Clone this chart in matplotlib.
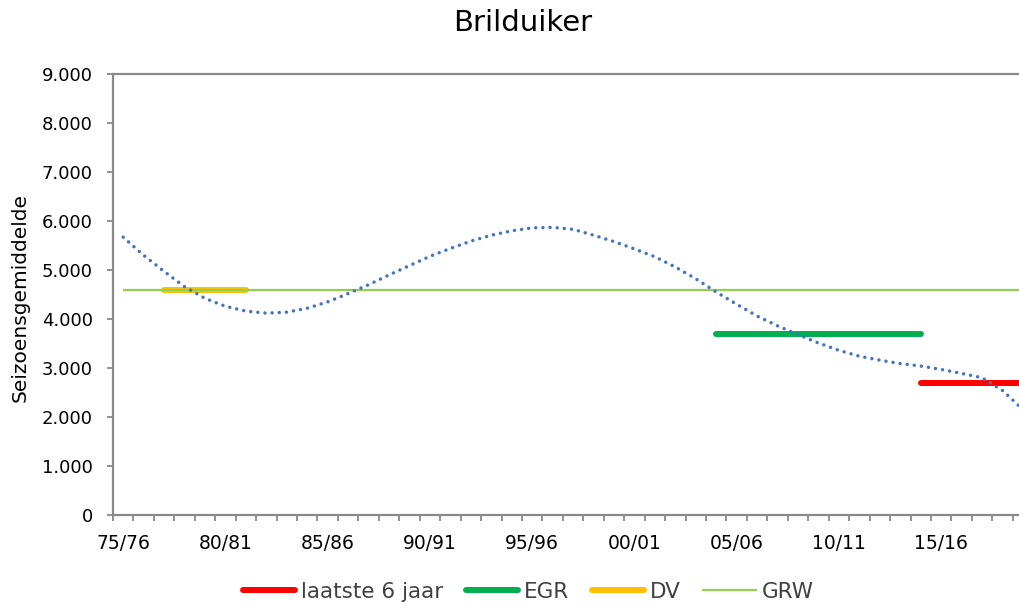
import matplotlib
matplotlib.use("Agg")
import matplotlib.pyplot as plt
from matplotlib.lines import Line2D
import numpy as np

# ---- data ----
seasons = [f"{(75 + i) % 100:02d}/{(76 + i) % 100:02d}" for i in range(45)]
label_every = 5
trend = [5670, 5300, 4970, 4660, 4420, 4260, 4160, 4120, 4140, 4220,
         4350, 4520, 4700, 4900, 5090, 5280, 5440, 5590, 5710, 5800,
         5860, 5870, 5830, 5710, 5580, 5430, 5270, 5060, 4820, 4550,
         4300, 4060, 3860, 3680, 3510, 3360, 3240, 3160, 3090, 3040,
         2970, 2890, 2800, 2540, 2150]
grw_value = 4600
grw_range = (0, 44)
dv_value = 4600
dv_range = (2, 6)
egr_value = 3700
egr_range = (29, 39)
last6_value = 2700
last6_range = (39, 44)
yticks = [0, 1000, 2000, 3000, 4000, 5000, 6000, 7000, 8000, 9000]

title = "Brilduiker"
ylabel = "Seizoensgemiddelde"
legend_labels = ["laatste 6 jaar", "EGR", "DV", "GRW"]

# ---- styling ----
c_trend = "#4472C4"
c_grw = "#92D050"
c_dv = "#FFC000"
c_egr = "#00B050"
c_red = "#FF0000"
c_axis = "#898989"

W, H = 1020, 605
fig = plt.figure(figsize=(W / 100, H / 100), dpi=100)
px_year = 20.45
ax = fig.add_axes([113 / W, (H - 515) / H, 45 * px_year / W, (515 - 74) / H])

x = np.arange(len(trend)) + 0.5

ax.plot([grw_range[0] + 0.5, grw_range[1] + 0.5], [grw_value] * 2, color=c_grw, lw=1.6,
        solid_capstyle="butt", zorder=2)
ax.plot([dv_range[0] + 0.5, dv_range[1] + 0.5], [dv_value] * 2, color=c_dv, lw=4.3,
        solid_capstyle="round", zorder=1)
ax.plot([egr_range[0] + 0.5, egr_range[1] + 0.5], [egr_value] * 2, color=c_egr, lw=4.3,
        solid_capstyle="round", zorder=2)
ax.plot([last6_range[0] + 0.5, last6_range[1] + 0.5], [last6_value] * 2, color=c_red, lw=4.3,
        solid_capstyle="round", zorder=2)
ax.plot(x, trend, color=c_trend, lw=2.5, linestyle=(0, (0.01, 2.05)),
        dash_capstyle="round", zorder=3)

ax.set_xlim(0, 45)
ax.set_ylim(0, 9000)
ax.set_yticks(yticks)
ax.set_yticklabels([f"{v:,}".replace(",", ".") for v in yticks], fontsize=13)
ax.set_xticks(np.arange(0, 46))
ax.set_xticklabels([])
ax.set_xticks([i + 0.5 for i in range(0, 45, label_every)], minor=True)
ax.set_xticklabels([seasons[i] for i in range(0, 45, label_every)], minor=True, fontsize=13.5)
ax.tick_params(axis="x", which="minor", length=0, pad=14)
ax.tick_params(axis="x", which="major", direction="out", length=4, width=1.3, color=c_axis)
ax.tick_params(axis="y", direction="out", length=4.5, width=1.3, color=c_axis, pad=10)

for s in ["left", "top", "bottom"]:
    ax.spines[s].set_color(c_axis)
    ax.spines[s].set_linewidth(1.6)
ax.spines["right"].set_visible(False)

fig.text(20 / W, 1 - 298 / H, ylabel, rotation=90, ha="center", va="center", fontsize=14.5)
fig.text(523 / W, 1 - 23 / H, title, ha="center", va="center", fontsize=21)

handles = [Line2D([], [], color=c_red, lw=4.3, solid_capstyle="round"),
           Line2D([], [], color=c_egr, lw=4.3, solid_capstyle="round"),
           Line2D([], [], color=c_dv, lw=4.3, solid_capstyle="round"),
           Line2D([], [], color=c_grw, lw=1.6)]
leg = fig.legend(handles, legend_labels, loc="center", bbox_to_anchor=(528 / W, 1 - 592 / H),
                 ncol=4, frameon=False, fontsize=15.5, handlelength=2.45, handletextpad=0.25,
                 columnspacing=1.05, borderaxespad=0, borderpad=0)
for t in leg.get_texts():
    t.set_color("#404040")

fig.savefig("out.png", dpi=100)
